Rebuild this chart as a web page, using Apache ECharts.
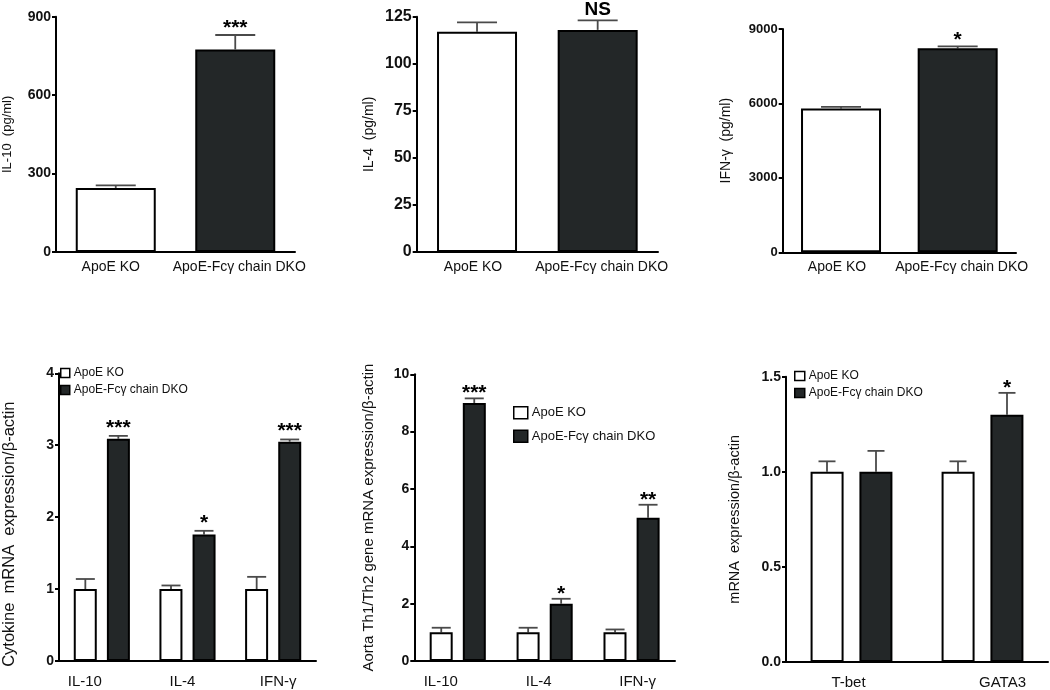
<!DOCTYPE html>
<html><head><meta charset="utf-8">
<script src="https://cdn.jsdelivr.net/npm/echarts@6/dist/echarts.min.js"></script>
<style>html,body{margin:0;padding:0;background:#fff}#c{width:1050px;height:690px}</style>
</head><body><div id="c"></div>
<script>
// ---------- data ----------
const groups = ['ApoE KO', 'ApoE-Fcγ chain DKO'];

const il10Serum = [245, 775];
const il10SerumErr = [10, 55];
const il10SerumSig = ['', '***'];

const il4Serum = [117, 118];
const il4SerumErr = [5, 5];
const il4SerumSig = ['', 'NS'];

const ifngSerum = [5800, 8220];
const ifngSerumErr = [65, 80];
const ifngSerumSig = ['', '*'];

const cytoCats = ['IL-10', 'IL-4', 'IFN-γ'];
const cytoKO = [1, 1, 1];
const cytoKOErr = [0.14, 0.05, 0.17];
const cytoDKO = [3.09, 1.76, 3.05];
const cytoDKOErr = [0.04, 0.05, 0.03];
const cytoSig = ['***', '*', '***'];

const aortaCats = ['IL-10', 'IL-4', 'IFN-γ'];
const aortaKO = [1, 1, 1];
const aortaKOErr = [0.16, 0.16, 0.1];
const aortaDKO = [9.0, 2.0, 5.0];
const aortaDKOErr = [0.16, 0.17, 0.45];
const aortaSig = ['***', '*', '**'];

const tfCats = ['T-bet', 'GATA3'];
const tfKO = [1, 1];
const tfKOErr = [0.055, 0.055];
const tfDKO = [1.0, 1.30];
const tfDKOErr = [0.11, 0.115];
const tfSig = ['', '*'];

// ---------- styles ----------
const FONT = '"Liberation Sans", Arial, Helvetica, sans-serif';
const DARK = '#232728';
const whiteStyle = {color: '#ffffff', borderColor: '#000', borderWidth: 2};
const darkStyle = {color: DARK, borderColor: '#000', borderWidth: 2};

function yAxis(gi, max, interval, name, nameGap, o) {
  o = o || {};
  return {
    type: 'value', gridIndex: gi, min: 0, max: max, interval: interval,
    name: name, nameLocation: 'middle', nameGap: nameGap,
    nameTextStyle: {fontFamily: FONT, fontSize: o.nameSize || 13, color: '#111', padding: o.namePad || 0},
    axisLine: {show: true, lineStyle: {color: '#000', width: 2}},
    axisTick: {show: true, length: 4, lineStyle: {color: '#000', width: 2}},
    axisLabel: {fontFamily: FONT, fontSize: o.labelSize || 14, fontWeight: 'bold', color: '#111', margin: 5,
      formatter: o.fmt || (v => String(v))},
    splitLine: {show: false}
  };
}
function xAxis(gi, cats, fontSize, margin, shifts) {
  const rich = {};
  shifts.forEach((d, i) => {
    rich['s' + i] = {fontFamily: FONT, fontSize: fontSize, color: '#111',
      padding: d < 0 ? [0, -2 * d, 0, 0] : [0, 0, 0, 2 * d]};
  });
  return {
    type: 'category', gridIndex: gi, data: cats,
    axisLine: {show: true, lineStyle: {color: '#000', width: 2}},
    axisTick: {show: false},
    axisLabel: {fontFamily: FONT, fontSize: fontSize, color: '#111', margin: margin, interval: 0,
      rich: rich, formatter: (v, i) => '{s' + i + '|' + v + '}'},
    splitLine: {show: false}
  };
}
function errSeries(gi, means, errs, sigs, offset, capW, starFont, starGap) {
  return {
    type: 'custom', xAxisIndex: gi, yAxisIndex: gi, z: 1, silent: true,
    data: means.map((m, i) => [i, m, errs[i]]),
    renderItem: (params, api) => {
      const i = api.value(0), m = api.value(1), e = api.value(2);
      const b = api.coord([i, m]);
      const t = api.coord([i, m + e]);
      const x = b[0] + offset;
      const ls = {stroke: '#4a4a4a', lineWidth: 1.8};
      const ch = [
        {type: 'line', shape: {x1: x, y1: b[1], x2: x, y2: t[1]}, style: ls},
        {type: 'line', shape: {x1: x - capW / 2, y1: t[1], x2: x + capW / 2, y2: t[1]}, style: ls}
      ];
      const s = sigs[params.dataIndex];
      if (s) {
        ch.push({type: 'text', x: x, y: t[1] - starGap,
          style: {text: s, fill: '#000', font: 'bold ' + starFont + 'px ' + FONT,
            textAlign: 'center', textVerticalAlign: 'middle'}});
      }
      return {type: 'group', children: ch};
    }
  };
}
function pairBar(gi, name, vals) {
  return {type: 'bar', name: name, xAxisIndex: gi, yAxisIndex: gi, z: 2, barWidth: 80,
    data: vals.map((v, i) => ({value: v, itemStyle: i === 0 ? whiteStyle : darkStyle}))};
}
function grpBar(gi, name, vals, style, w, gap) {
  return {type: 'bar', name: name, xAxisIndex: gi, yAxisIndex: gi, z: 2, barWidth: w, barGap: gap,
    itemStyle: style, data: vals};
}
function legend(left, top, iw, ih, gap, fs) {
  return {data: groups, orient: 'vertical', left: left, top: top, padding: 0,
    itemWidth: iw, itemHeight: ih, itemGap: gap, icon: 'rect', itemStyle: {borderWidth: 1.5},
    textStyle: {fontFamily: FONT, fontSize: fs, color: '#111', padding: [0, 0, 0, -1]}, selectedMode: false};
}

const option = {
  backgroundColor: '#fff',
  animation: false,
  grid: [
    {left: 51, top: 16.7, width: 244, height: 235.3},
    {left: 416.7, top: 16.7, width: 241.3, height: 235.3},
    {left: 782.7, top: 29, width: 233.3, height: 223.3},
    {left: 48.3, top: 373.3, width: 267.7, height: 287.7},
    {left: 414.3, top: 374.3, width: 260.7, height: 286.7},
    {left: 786, top: 376.7, width: 262, height: 287.3}
  ],
  xAxis: [
    xAxis(0, groups, 14, 8, [-5, 4]),
    xAxis(1, groups, 14, 8, [-4, 4]),
    xAxis(2, groups, 14, 8, [-4, 4]),
    xAxis(3, cytoCats, 15, 13, [-17, -5, 5]),
    xAxis(4, aortaCats, 15, 13, [-17, -6, 6]),
    xAxis(5, tfCats, 15, 13, [-3, 20])
  ],
  yAxis: [
    yAxis(0, 900, 300, 'IL-10  (pg/ml)', 42, {nameSize: 13}),
    yAxis(1, 125, 25, 'IL-4  (pg/ml)', 41, {nameSize: 14, labelSize: 16}),
    yAxis(2, 9000, 3000, 'IFN-γ  (pg/ml)', 50, {nameSize: 14, labelSize: 13}),
    yAxis(3, 4, 1, 'Cytokine  mRNA  expression/β-actin', 41, {nameSize: 16.5, namePad: [0, 34, 0, 0], labelSize: 14}),
    yAxis(4, 10, 2, 'Aorta Th1/Th2 gene mRNA expression/β-actin', 38, {nameSize: 15}),
    yAxis(5, 1.5, 0.5, 'mRNA  expression/β-actin', 44, {nameSize: 14.5, fmt: v => v.toFixed(1)})
  ],
  legend: [
    legend(60, 367, 9, 9, 5, 12),
    legend(513, 406, 14, 12, 10, 13),
    legend(794, 370, 10, 9, 5, 12)
  ],
  series: [
    pairBar(0, 'IL-10 serum', il10Serum),
    errSeries(0, il10Serum, il10SerumErr, il10SerumSig, 0, 40, 21, 7),
    pairBar(1, 'IL-4 serum', il4Serum),
    errSeries(1, il4Serum, il4SerumErr, il4SerumSig, 0, 40, 19, 11),
    pairBar(2, 'IFN-γ serum', ifngSerum),
    errSeries(2, ifngSerum, ifngSerumErr, ifngSerumSig, 0, 40, 21, 6),

    grpBar(3, groups[0], cytoKO, whiteStyle, 23, '44%'),
    grpBar(3, groups[1], cytoDKO, darkStyle, 23, '44%'),
    errSeries(3, cytoKO, cytoKOErr, ['', '', ''], -16.5, 19, 21, 8),
    errSeries(3, cytoDKO, cytoDKOErr, cytoSig, 16.5, 19, 21, 8),

    grpBar(4, groups[0], aortaKO, whiteStyle, 23, '44%'),
    grpBar(4, groups[1], aortaDKO, darkStyle, 23, '44%'),
    errSeries(4, aortaKO, aortaKOErr, ['', '', ''], -16.5, 19, 21, 5),
    errSeries(4, aortaDKO, aortaDKOErr, aortaSig, 16.5, 19, 21, 5),

    grpBar(5, groups[0], tfKO, whiteStyle, 33, '48%'),
    grpBar(5, groups[1], tfDKO, darkStyle, 33, '48%'),
    errSeries(5, tfKO, tfKOErr, ['', ''], -24.5, 17, 21, 5),
    errSeries(5, tfDKO, tfDKOErr, tfSig, 24.5, 17, 21, 5)
  ]
};
echarts.init(document.getElementById('c'), null, {renderer: 'canvas'}).setOption(option);
</script></body></html>
